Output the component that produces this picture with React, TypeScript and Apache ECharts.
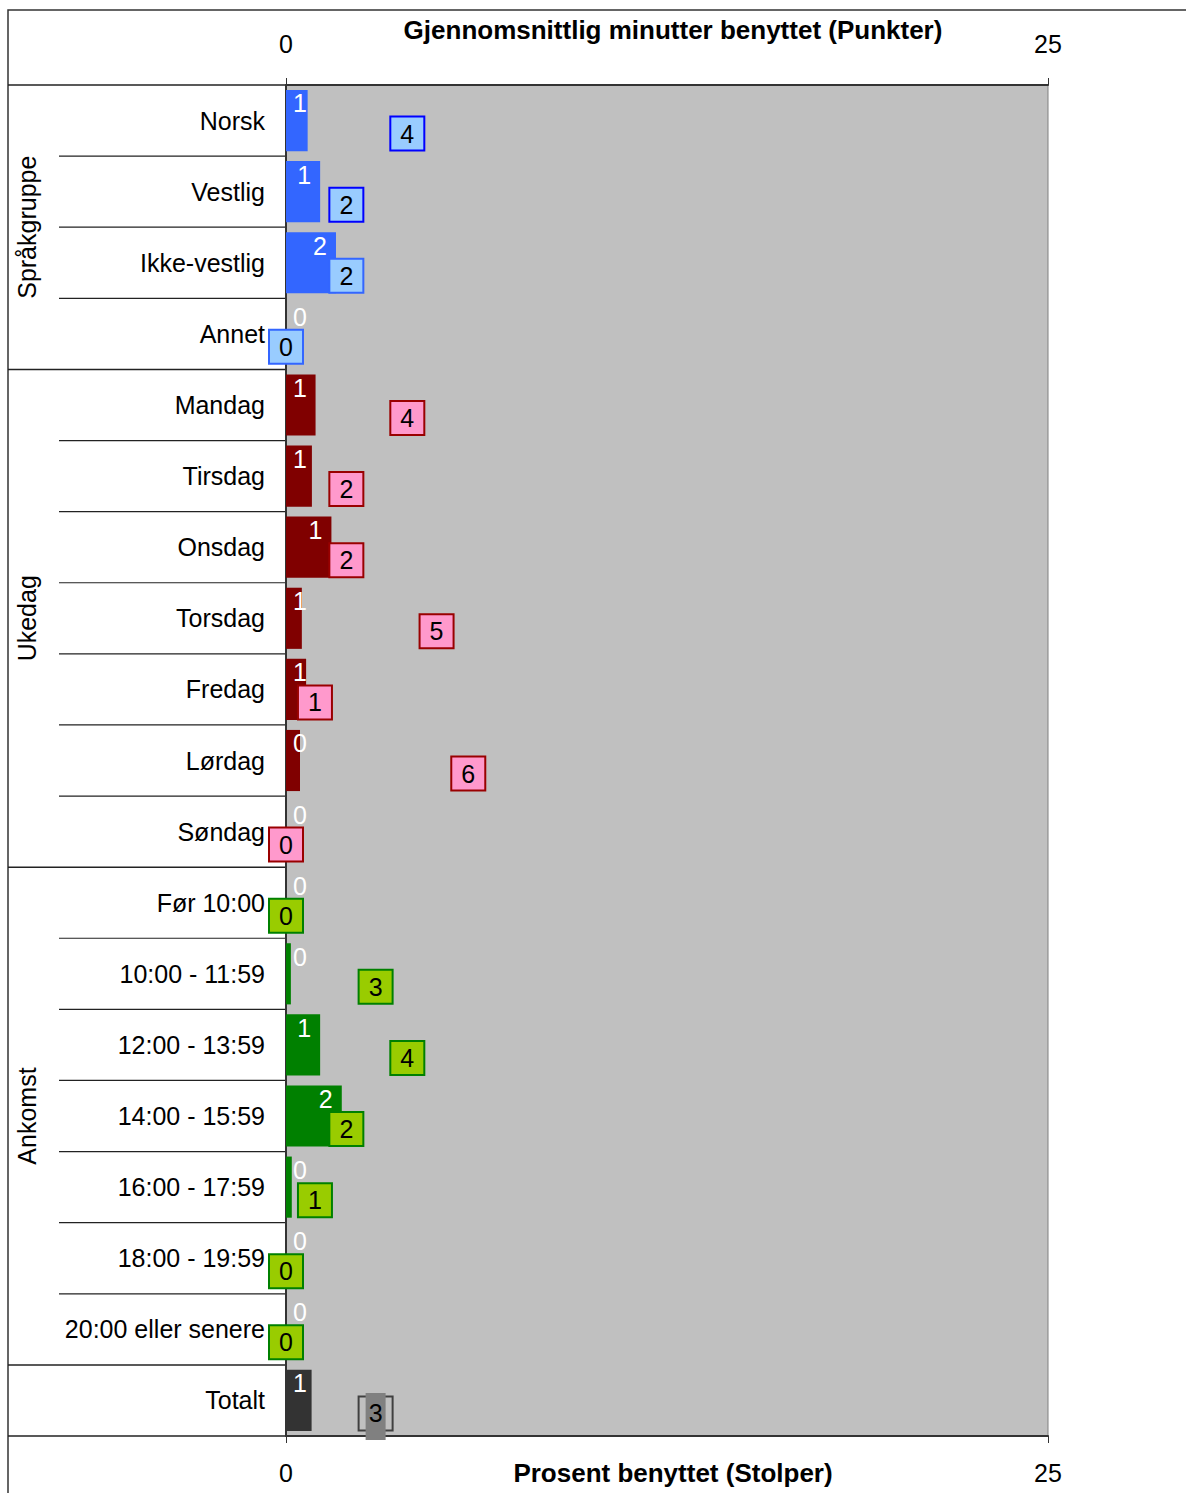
import React, { useEffect, useRef } from "react";
import * as echarts from "echarts";

const categories = [
  "Norsk", "Vestlig", "Ikke-vestlig", "Annet",
  "Mandag", "Tirsdag", "Onsdag", "Torsdag", "Fredag", "Lørdag", "Søndag",
  "Før 10:00", "10:00 - 11:59", "12:00 - 13:59", "14:00 - 15:59", "16:00 - 17:59", "18:00 - 19:59", "20:00 eller senere",
  "Totalt",
];
const categoryGroup = [0, 0, 0, 0, 1, 1, 1, 1, 1, 1, 1, 2, 2, 2, 2, 2, 2, 2, 3];
const groupNames = ["Språkgruppe", "Ukedag", "Ankomst", ""];
// Prosent benyttet (Stolper)
const percentUsed = [0.71, 1.12, 1.64, 0, 0.97, 0.85, 1.49, 0.52, 0.66, 0.46, 0, 0, 0.16, 1.12, 1.83, 0.19, 0, 0, 0.84];
// Gjennomsnittlig minutter benyttet (Punkter)
const avgMinutes = [3.98, 1.98, 1.98, 0, 3.98, 1.98, 1.98, 4.94, 0.95, 5.98, 0, 0, 2.94, 3.98, 1.98, 0.95, 0, 0, 2.94];
const axisMin = 0;
const axisMax = 25;

const barColors = ["#3366ff", "#800000", "#008000", "#333333"];
const boxFill = ["#99ccff", "#ff99cc", "#99cc00", "rgba(0,0,0,0)"];
const boxBorder = ["#0000ff", "#990000", "#008000", "#404040"];
const boxBorderOverride: Record<number, string> = { 2: "#3366ff", 3: "#3366ff" };

const NARROW = "'Liberation Sans Narrow', 'Arial Narrow', sans-serif";
const REG = "'Liberation Sans', Arial, sans-serif";

const GRID_LEFT = 286;
const GRID_TOP = 85;
const GRID_W = 762;
const GRID_H = 1351;

export default function App() {
  const ref = useRef<HTMLDivElement>(null);
  useEffect(() => {
    document.body.style.margin = "0";
    if (!ref.current) return;
    const chart = echarts.init(ref.current, undefined, { renderer: "svg" });
    const n = categories.length;
    const rowH = GRID_H / n;
    const pxPerUnit = GRID_W / (axisMax - axisMin);

    const graphics: any[] = [];
    // frame
    graphics.push({
      type: "rect",
      shape: { x: 8, y: 10, width: 1400, height: 1700 },
      style: { fill: "none", stroke: "#333", lineWidth: 1.5 },
      silent: true,
    });
    // row separators
    for (let k = 0; k <= n; k++) {
      const y = GRID_TOP + k * rowH;
      const isGroupEdge = k === 0 || k === n || categoryGroup[k] !== categoryGroup[k - 1];
      graphics.push({
        type: "line",
        shape: { x1: isGroupEdge ? 8 : 59, y1: y, x2: GRID_LEFT, y2: y },
        style: { stroke: "#222", lineWidth: isGroupEdge ? 1.5 : 1.2 },
        silent: true,
      });
    }
    // group labels
    groupNames.forEach((g, gi) => {
      if (!g) return;
      const idx = categoryGroup.map((c, i) => (c === gi ? i : -1)).filter((i) => i >= 0);
      const cy = GRID_TOP + ((idx[0] + idx[idx.length - 1] + 1) / 2) * rowH;
      graphics.push({
        type: "text",
        x: 27,
        y: cy,
        rotation: Math.PI / 2,
        style: { text: g, font: `25px ${NARROW}`, fill: "#000", textAlign: "center", textVerticalAlign: "middle" },
        silent: true,
      });
    });

    const barData = percentUsed.map((v, i) => {
      const wide = v * pxPerUnit - 16 >= 14;
      return {
        value: v,
        itemStyle: { color: barColors[categoryGroup[i]] },
        label: wide
          ? { position: ["100%", 0], align: "center", verticalAlign: "top", offset: [-16, 1] }
          : { position: [0, 0], align: "center", verticalAlign: "top", offset: [14, 1] },
      };
    });

    const boxData = avgMinutes.map((v, i) => {
      const g = categoryGroup[i];
      return {
        value: [v, i],
        itemStyle: {
          color: boxFill[g],
          borderColor: boxBorderOverride[i] || boxBorder[g],
          borderWidth: 2,
          opacity: 1,
        },
        label: { show: g !== 3 },
      };
    });
    const totalIdx = categoryGroup.map((c, i) => (c === 3 ? i : -1)).filter((i) => i >= 0);
    const markerData = totalIdx.map((i) => ({ value: [avgMinutes[i], i] }));

    chart.setOption({
      animation: false,
      grid: {
        left: GRID_LEFT,
        top: GRID_TOP,
        width: GRID_W,
        height: GRID_H,
        show: true,
        backgroundColor: "#c0c0c0",
        borderColor: "#808080",
        borderWidth: 1,
      },
      xAxis: [
        {
          type: "value",
          position: "bottom",
          min: axisMin,
          max: axisMax,
          interval: 25,
          name: "Prosent benyttet (Stolper)",
          nameLocation: "middle",
          nameGap: 24,
          nameMoveOverlap: false,
          nameTextStyle: { fontFamily: REG, fontWeight: "bold", fontSize: 26, color: "#000", verticalAlign: "top", padding: [0, 0, 0, 12] },
          axisLine: { show: true, lineStyle: { color: "#333", width: 2 } },
          axisTick: { show: true, length: 7, lineStyle: { color: "#333" } },
          axisLabel: { margin: 24, fontSize: 25, fontFamily: NARROW, color: "#000" },
          splitLine: { show: false },
        },
        {
          type: "value",
          position: "top",
          min: axisMin,
          max: axisMax,
          interval: 25,
          name: "Gjennomsnittlig minutter benyttet (Punkter)",
          nameLocation: "middle",
          nameGap: 42,
          nameMoveOverlap: false,
          nameTextStyle: { fontFamily: REG, fontWeight: "bold", fontSize: 26, color: "#000", verticalAlign: "bottom", padding: [0, 0, 0, 12] },
          axisLine: { show: true, lineStyle: { color: "#333", width: 2 } },
          axisTick: { show: true, length: 7, lineStyle: { color: "#333" } },
          axisLabel: { margin: 29, fontSize: 25, fontFamily: NARROW, color: "#000" },
          splitLine: { show: false },
        },
      ],
      yAxis: {
        type: "category",
        inverse: true,
        data: categories,
        axisLine: { show: true, lineStyle: { color: "#333", width: 2 } },
        axisTick: { show: false },
        axisLabel: { margin: 21, fontSize: 25, fontFamily: NARROW, color: "#000", padding: [0, 0, 4, 0] },
        splitLine: { show: false },
      },
      graphic: graphics,
      series: [
        {
          type: "bar",
          xAxisIndex: 0,
          data: barData,
          barCategoryGap: "14%",
          z: 2,
          label: {
            show: true,
            color: "#fff",
            fontSize: 25,
            fontFamily: NARROW,
            formatter: (p: any) => String(Math.round(p.value)),
          },
        },
        {
          type: "scatter",
          xAxisIndex: 1,
          data: boxData,
          symbol: "rect",
          symbolSize: 34,
          symbolOffset: [0, 13],
          clip: false,
          z: 3,
          itemStyle: { opacity: 1 },
          label: {
            show: true,
            position: "inside",
            color: "#000",
            fontSize: 25,
            fontFamily: NARROW,
            formatter: (p: any) => String(Math.round(p.value[0])),
          },
        },
        {
          type: "scatter",
          xAxisIndex: 1,
          data: markerData,
          symbol: "rect",
          symbolSize: [20, 47],
          symbolOffset: [0, 16],
          clip: false,
          z: 4,
          itemStyle: { color: "#808080", opacity: 1 },
          label: {
            show: true,
            position: "inside",
            offset: [0, -3],
            color: "#000",
            fontSize: 25,
            fontFamily: NARROW,
            formatter: (p: any) => String(Math.round(p.value[0])),
          },
        },
      ],
    });
    return () => chart.dispose();
  }, []);
  return <div ref={ref} style={{ width: 1186, height: 1493 }} />;
}
